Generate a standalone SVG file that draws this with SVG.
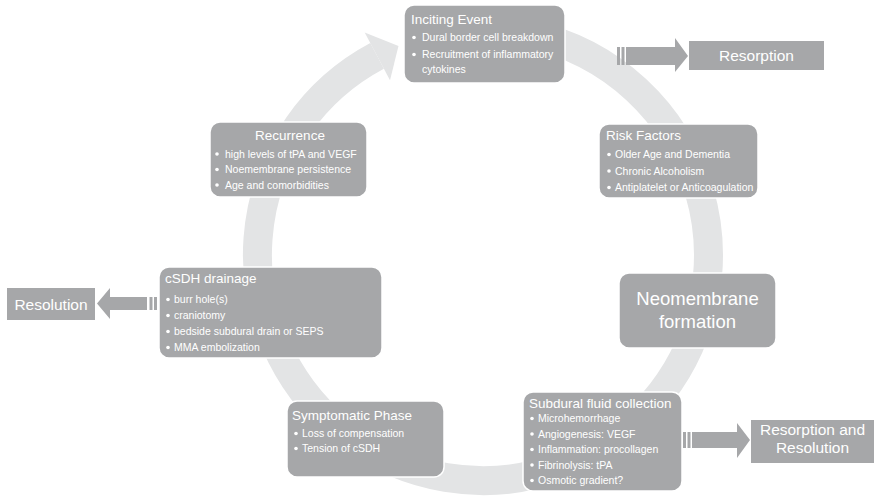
<svg xmlns="http://www.w3.org/2000/svg" width="881" height="496" viewBox="0 0 881 496">
<style>
.box{fill:#a6a7a9;stroke:#ffffff;stroke-width:1.5}
.plain{fill:#a6a7a9}
.arr{fill:#a6a7a9}
.t{font-family:"Liberation Sans",Arial,sans-serif;fill:#ffffff}
.title{font-size:13.5px}
.b{font-size:10.5px}
.big{font-size:15.5px}
.neo{font-size:18.5px}
.dot{fill:#ffffff}
</style>
<rect width="881" height="496" fill="#ffffff"/>
<g id="connectors">
  <g id="cycle-ring">
    <path d="M424.6,37.2 A225.5,225.5 0 1 1 377.1,55.9" fill="none" stroke="#e3e4e5" stroke-width="29"/>
    <polygon points="364.7,32.5 398.5,45.9 390.0,80.2" fill="#e3e4e5"/>
  </g>
  <g id="arrow-resorption">
    <rect class="arr" x="617" y="47" width="3" height="18"/>
    <rect class="arr" x="621.5" y="47" width="3" height="18"/>
    <polygon class="arr" points="626,47 675,47 675,38 688,56 675,72 675,65 626,65"/>
  </g>
  <g id="arrow-resorption-resolution">
    <rect class="arr" x="683" y="432" width="3" height="16"/>
    <rect class="arr" x="687.5" y="432" width="3" height="16"/>
    <polygon class="arr" points="692,432 737,432 737,423 750,440 737,458 737,448 692,448"/>
  </g>
  <g id="arrow-resolution">
    <rect class="arr" x="154" y="297" width="3" height="13"/>
    <rect class="arr" x="149.5" y="297" width="3" height="13"/>
    <polygon class="arr" points="147,297 110,297 110,288 97,303.5 110,319 110,310 147,310"/>
  </g>
</g>
<g id="inciting-event">
  <rect class="box" x="404" y="5" width="161" height="78" rx="10"/>
  <text class="t title" x="411" y="24">Inciting Event</text>
  <circle class="dot" cx="414" cy="37.5" r="1.8"/>
  <text class="t b" x="422" y="41">Dural border cell breakdown</text>
  <circle class="dot" cx="414" cy="54.5" r="1.8"/>
  <text class="t b" x="422" y="58">Recruitment of inflammatory</text>
  <text class="t b" x="422" y="73">cytokines</text>
</g>
<g id="resorption">
  <rect class="plain" x="689" y="41" width="135" height="29"/>
  <text class="t big" x="756.5" y="61" text-anchor="middle">Resorption</text>
</g>
<g id="risk-factors">
  <rect class="box" x="599" y="124" width="159" height="74" rx="10"/>
  <text class="t title" x="606" y="140">Risk Factors</text>
  <circle class="dot" cx="609" cy="154.5" r="1.8"/>
  <text class="t b" x="615" y="158">Older Age and Dementia</text>
  <circle class="dot" cx="609" cy="171" r="1.8"/>
  <text class="t b" x="615" y="174.5">Chronic Alcoholism</text>
  <circle class="dot" cx="609" cy="187.5" r="1.8"/>
  <text class="t b" x="615" y="191">Antiplatelet or Anticoagulation</text>
</g>
<g id="neomembrane">
  <rect class="box" x="619" y="273" width="157" height="75" rx="10"/>
  <text class="t neo" x="697.5" y="305" text-anchor="middle">Neomembrane</text>
  <text class="t neo" x="697.5" y="328" text-anchor="middle">formation</text>
</g>
<g id="subdural-fluid">
  <rect class="box" x="523" y="392" width="159" height="99" rx="10"/>
  <text class="t title" x="529" y="408">Subdural fluid collection</text>
  <circle class="dot" cx="532" cy="418.5" r="1.8"/>
  <text class="t b" x="538" y="422">Microhemorrhage</text>
  <circle class="dot" cx="532" cy="434" r="1.8"/>
  <text class="t b" x="538" y="437.5">Angiogenesis: VEGF</text>
  <circle class="dot" cx="532" cy="449.5" r="1.8"/>
  <text class="t b" x="538" y="453">Inflammation: procollagen</text>
  <circle class="dot" cx="532" cy="465" r="1.8"/>
  <text class="t b" x="538" y="468.5">Fibrinolysis: tPA</text>
  <circle class="dot" cx="532" cy="480.5" r="1.8"/>
  <text class="t b" x="538" y="484">Osmotic gradient?</text>
</g>
<g id="resorption-resolution">
  <rect class="plain" x="751" y="420" width="123" height="43"/>
  <text class="t big" x="812.5" y="435" text-anchor="middle">Resorption and</text>
  <text class="t big" x="812.5" y="453" text-anchor="middle">Resolution</text>
</g>
<g id="symptomatic-phase">
  <rect class="box" x="287" y="401" width="157" height="76" rx="10"/>
  <text class="t title" x="292" y="420">Symptomatic Phase</text>
  <circle class="dot" cx="296" cy="433.5" r="1.8"/>
  <text class="t b" x="302" y="437">Loss of compensation</text>
  <circle class="dot" cx="296" cy="448.5" r="1.8"/>
  <text class="t b" x="302" y="452">Tension of cSDH</text>
</g>
<g id="csdh-drainage">
  <rect class="box" x="159" y="267" width="223" height="91" rx="10"/>
  <text class="t title" x="165" y="283">cSDH drainage</text>
  <circle class="dot" cx="168" cy="299.5" r="1.8"/>
  <text class="t b" x="174" y="303">burr hole(s)</text>
  <circle class="dot" cx="168" cy="315.5" r="1.8"/>
  <text class="t b" x="174" y="319">craniotomy</text>
  <circle class="dot" cx="168" cy="331.5" r="1.8"/>
  <text class="t b" x="174" y="335">bedside subdural drain or SEPS</text>
  <circle class="dot" cx="168" cy="347.5" r="1.8"/>
  <text class="t b" x="174" y="351">MMA embolization</text>
</g>
<g id="resolution">
  <rect class="plain" x="7" y="288" width="88" height="32"/>
  <text class="t big" x="51" y="310" text-anchor="middle">Resolution</text>
</g>
<g id="recurrence">
  <rect class="box" x="210" y="122" width="157" height="75" rx="10"/>
  <text class="t title" x="290" y="140" text-anchor="middle">Recurrence</text>
  <circle class="dot" cx="217" cy="154" r="1.8"/>
  <text class="t b" x="225" y="157.5">high levels of tPA and VEGF</text>
  <circle class="dot" cx="217" cy="169.5" r="1.8"/>
  <text class="t b" x="225" y="173">Noemembrane persistence</text>
  <circle class="dot" cx="217" cy="185" r="1.8"/>
  <text class="t b" x="225" y="188.5">Age and comorbidities</text>
</g>
</svg>
